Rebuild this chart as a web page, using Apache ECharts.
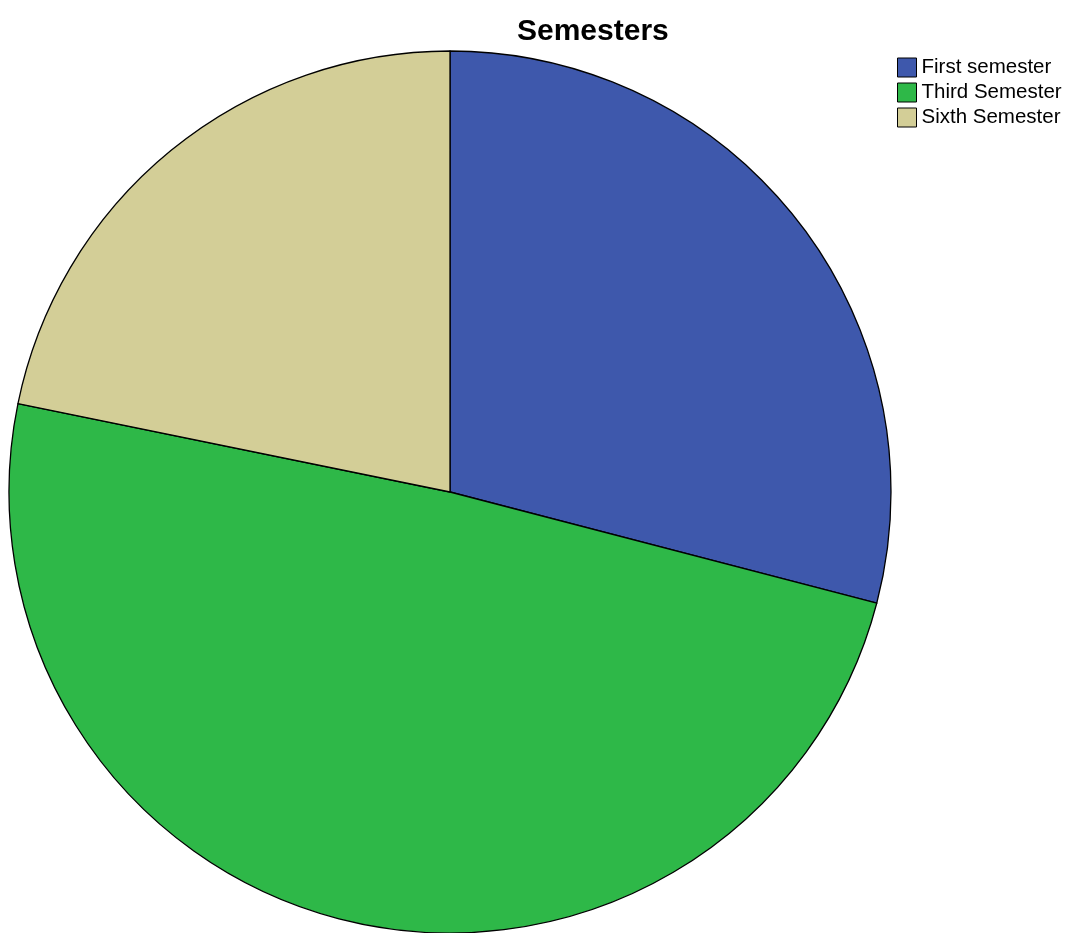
<!DOCTYPE html>
<html>
<head>
<meta charset="utf-8">
<script src="https://cdn.jsdelivr.net/npm/echarts@6/dist/echarts.min.js"></script>
<style>
html,body{margin:0;padding:0;background:#fff;}
#chart{width:1068px;height:933px;}
</style>
</head>
<body>
<div id="chart"></div>
<script>
const categories = ['First semester', 'Third Semester', 'Sixth Semester'];
const counts = [52, 88, 39];
const colors = ['#3E58AC', '#2EB848', '#D3CE97'];

const chart = echarts.init(document.getElementById('chart'), null, {renderer: 'canvas'});
chart.setOption({
  animation: false,
  backgroundColor: '#ffffff',
  title: {
    text: 'Semesters',
    left: 517,
    top: 17,
    padding: 0,
    textStyle: {fontFamily: 'Liberation Sans', fontWeight: 'bold', fontSize: 30, color: '#000'}
  },
  legend: {
    orient: 'vertical',
    left: 897,
    top: 57,
    padding: 0,
    itemWidth: 19,
    itemHeight: 19,
    itemGap: 4,
    icon: 'rect',
    data: categories,
    itemStyle: {borderColor: '#000', borderWidth: 1},
    textStyle: {fontFamily: 'Liberation Sans', fontSize: 20.5, color: '#000', lineHeight: 19}
  },
  series: [{
    type: 'pie',
    center: [450, 492],
    radius: 441,
    startAngle: 90,
    clockwise: true,
    label: {show: false},
    labelLine: {show: false},
    emphasis: {disabled: true},
    itemStyle: {borderColor: '#000', borderWidth: 1.3},
    data: categories.map((c, i) => ({name: c, value: counts[i], itemStyle: {color: colors[i]}}))
  }]
});
</script>
</body>
</html>
